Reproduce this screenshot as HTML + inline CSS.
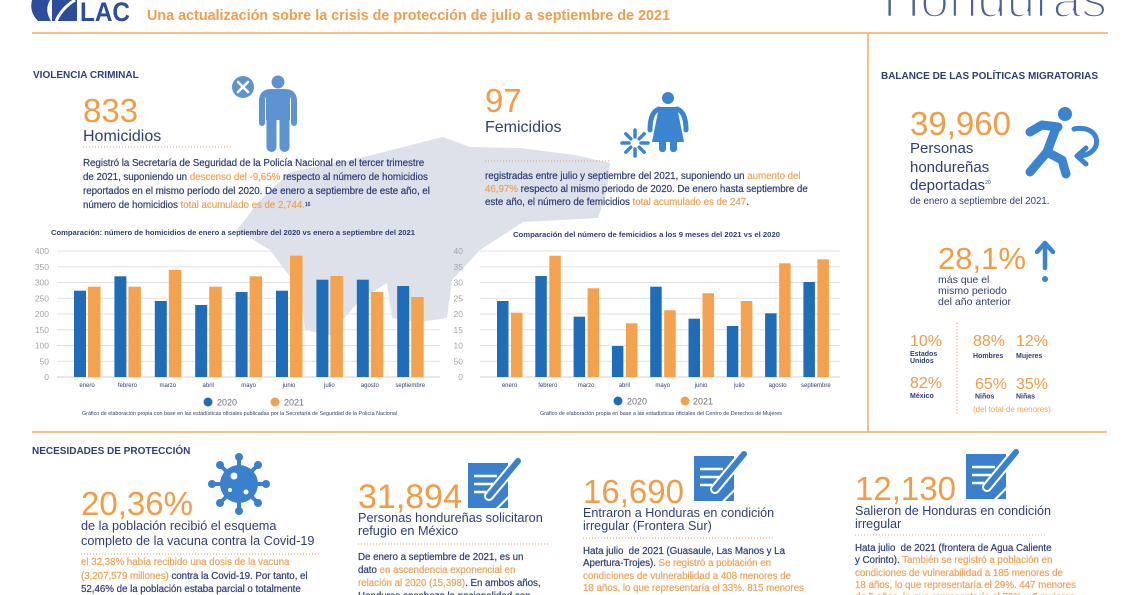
<!DOCTYPE html>
<html><head><meta charset="utf-8">
<style>
html,body{margin:0;padding:0;background:#fff;}
#c{position:relative;width:1140px;height:595px;overflow:hidden;background:#fff;font-family:"Liberation Sans","DejaVu Sans",sans-serif;}
svg{position:absolute;left:0;top:0;}
.p{position:absolute;white-space:nowrap;font-size:9.8px;color:#2f3d78;letter-spacing:-0.05px;-webkit-text-stroke:0.2px currentColor;}
.o{color:#f3a157;}
sup{font-size:5px;vertical-align:top;position:relative;top:-1px;}
</style></head><body>
<div id="c">
<svg width="1140" height="595" viewBox="0 0 1140 595" font-family="Liberation Sans, DejaVu Sans, sans-serif">
<!-- map -->
<path d="M237,230 L260,200 L290,172 L360,158 L443,137 L470,147 L520,148 L575,155 L610,163 L607,190 L598,218 L523,222 L480,250 L452,280 L447,318 L420,322 L392,318 L387,283 L360,300 L330,335 L305,330 L300,290 L270,250 Z" fill="#dde1ea"/>

<!-- header -->
<path d="M32,0 L50,0 Q44,10 51,21 L38,21 Q29,12 32,0Z" fill="#2c4c9c"/>
<rect x="52" y="0" width="25" height="21" fill="#2c4c9c"/>
<path d="M56,21 Q62,8 75,0" stroke="#fff" stroke-width="3" fill="none"/>
<text x="80" y="21" font-size="27" font-weight="bold" fill="#2c4c9c" textLength="50" lengthAdjust="spacingAndGlyphs">LAC</text>
<text x="147" y="20" font-size="15" font-weight="bold" fill="#f29d4b" textLength="523" lengthAdjust="spacingAndGlyphs">Una actualización sobre la crisis de protección de julio a septiembre de 2021</text>
<text x="883" y="17" font-size="52" fill="#4b5f9c" stroke="#fff" stroke-width="2.4" textLength="224" lengthAdjust="spacingAndGlyphs">Honduras</text>

<!-- separators -->
<line x1="32" y1="33" x2="1108" y2="33" stroke="#f4a862" stroke-width="1.5"/>
<line x1="868" y1="33" x2="868" y2="432" stroke="#f4a862" stroke-width="1.5"/>
<line x1="32" y1="432" x2="1107" y2="432" stroke="#f4a862" stroke-width="1.5"/>

<!-- section titles -->
<text x="33" y="78" font-size="10" font-weight="bold" fill="#2f3d78">VIOLENCIA CRIMINAL</text>
<text x="881" y="79" font-size="10" font-weight="bold" fill="#2f3d78" textLength="217" lengthAdjust="spacingAndGlyphs">BALANCE DE LAS POLÍTICAS MIGRATORIAS</text>
<text x="32" y="454" font-size="10" font-weight="bold" fill="#2f3d78">NECESIDADES DE PROTECCIÓN</text>

<!-- homicidios -->
<text x="83" y="122" font-size="33" fill="#f39b45">833</text>
<text x="83" y="141" font-size="16" fill="#2f3d78">Homicidios</text>
<line x1="83" y1="147" x2="232" y2="147" stroke="#f3a157" stroke-width="1" stroke-dasharray="1 2"/>
<circle cx="243" cy="87" r="11" fill="#5e93d2"/>
<path d="M238,82 L248,92 M248,82 L238,92" stroke="#fff" stroke-width="2.5" stroke-linecap="round"/>
<circle cx="278" cy="82" r="6.5" fill="#5e93d2"/>
<path d="M262,123 L262,101 Q262,92 271,92 L285,92 Q294,92 294,101 L294,123" stroke="#5e93d2" stroke-width="6" fill="none" stroke-linecap="round"/>
<rect x="266" y="92" width="24" height="28" fill="#5e93d2"/>
<rect x="266.5" y="112" width="10" height="40" rx="5" fill="#5e93d2"/>
<rect x="279.5" y="112" width="10" height="40" rx="5" fill="#5e93d2"/>

<!-- femicidios -->
<text x="485" y="112" font-size="33" fill="#f39b45">97</text>
<text x="485" y="132" font-size="16" fill="#2f3d78">Femicidios</text>
<line x1="485" y1="161" x2="610" y2="161" stroke="#f3a157" stroke-width="1" stroke-dasharray="1 2"/>
<circle cx="668" cy="98" r="6" fill="#3b84cf"/>
<path d="M659,107 L677,107 L684,142 L652,142 Z" fill="#3b84cf"/>
<path d="M659,109 Q650,112 650,130 M677,109 Q686,112 686,130" stroke="#3b84cf" stroke-width="5" fill="none" stroke-linecap="round"/>
<rect x="659" y="138" width="7" height="14" rx="3" fill="#3b84cf"/>
<rect x="670" y="138" width="7" height="14" rx="3" fill="#3b84cf"/>
<g stroke="#3b84cf" stroke-width="3.5" stroke-linecap="round">
<line x1="641" y1="143" x2="648" y2="143"/><line x1="629" y1="143" x2="622" y2="143"/>
<line x1="635" y1="137" x2="635" y2="130"/><line x1="635" y1="149" x2="635" y2="156"/>
<line x1="639.2" y1="138.8" x2="644.2" y2="133.8"/><line x1="630.8" y1="147.2" x2="625.8" y2="152.2"/>
<line x1="630.8" y1="138.8" x2="625.8" y2="133.8"/><line x1="639.2" y1="147.2" x2="644.2" y2="152.2"/>
</g>

<!-- right column -->
<text x="910" y="135" font-size="33" fill="#f39b45">39,960</text>
<text x="910" y="153" font-size="15" fill="#2f3d78">Personas</text>
<text x="910" y="172" font-size="15" fill="#2f3d78">hondureñas</text>
<text x="910" y="190" font-size="15" fill="#2f3d78">deportadas<tspan font-size="5" dy="-6">20</tspan></text>
<text x="910" y="204" font-size="9.7" fill="#2f3d78">de enero a septiembre del 2021.</text>
<circle cx="1065" cy="114" r="7" fill="#3b84cf"/>
<g stroke="#3b84cf" stroke-width="9" stroke-linecap="round" stroke-linejoin="round" fill="none">
<path d="M1030,132 L1042,125 L1058,127"/>
<path d="M1056,128 L1047,152"/>
<path d="M1047,152 L1030,172"/>
<path d="M1047,152 L1062,160 L1066,174"/>
</g>
<path d="M1074,129 C1102,124 1104,154 1080,156" stroke="#3b84cf" stroke-width="5" fill="none" stroke-linecap="round"/>
<path d="M1086,148 L1077,156 L1086,164" stroke="#3b84cf" stroke-width="5" fill="none" stroke-linecap="round" stroke-linejoin="round"/>

<text x="938" y="269" font-size="31" fill="#f39b45">28,1%</text>
<text x="938" y="283" font-size="10.5" fill="#2f3d78">más que el</text>
<text x="938" y="294" font-size="10.5" fill="#2f3d78">mismo periodo</text>
<text x="938" y="305" font-size="10.5" fill="#2f3d78">del año anterior</text>
<path d="M1045,245 L1045,268 M1037,252 L1045,243 L1053,252" stroke="#3b84cf" stroke-width="4.5" fill="none" stroke-linecap="round" stroke-linejoin="round"/>
<circle cx="1045" cy="279" r="3" fill="#3b84cf"/>

<line x1="957" y1="323" x2="957" y2="414" stroke="#f3a157" stroke-width="1.2" stroke-dasharray="1 2.2"/>
<g font-size="16" fill="#f39b45">
<text x="910" y="346">10%</text><text x="973" y="346">88%</text><text x="1016" y="346">12%</text>
<text x="910" y="388">82%</text><text x="975" y="389">65%</text><text x="1016" y="389">35%</text>
</g>
<g font-size="7" font-weight="bold" fill="#2f3d78">
<text x="910" y="356">Estados</text><text x="910" y="363">Unidos</text>
<text x="973" y="358">Hombres</text><text x="1016" y="358">Mujeres</text>
<text x="910" y="398">México</text><text x="975" y="398.5">Niños</text><text x="1016" y="398.5">Niñas</text>
</g>
<text x="973" y="412" font-size="8" fill="#f3a157">(del total de menores)</text>

<!-- left chart -->
<text x="51" y="235" font-size="7.6" font-weight="bold" fill="#2f3d78" textLength="364" lengthAdjust="spacingAndGlyphs">Comparación: número de homicidios de enero a septiembre del 2020 vs enero a septiembre del 2021</text>
<g stroke="#e2e2e6" stroke-width="1">
<line x1="57" y1="251" x2="440" y2="251"/><line x1="57" y1="266.75" x2="440" y2="266.75"/><line x1="57" y1="282.5" x2="440" y2="282.5"/><line x1="57" y1="298.25" x2="440" y2="298.25"/><line x1="57" y1="314" x2="440" y2="314"/><line x1="57" y1="329.75" x2="440" y2="329.75"/><line x1="57" y1="345.5" x2="440" y2="345.5"/><line x1="57" y1="361.25" x2="440" y2="361.25"/>
</g>
<line x1="57" y1="377" x2="440" y2="377" stroke="#cfcfd4" stroke-width="1"/>
<g font-size="8.5" fill="#a3a3ab" text-anchor="end">
<text x="49" y="254">400</text><text x="49" y="269.8">350</text><text x="49" y="285.5">300</text><text x="49" y="301.3">250</text><text x="49" y="317">200</text><text x="49" y="332.8">150</text><text x="49" y="348.5">100</text><text x="49" y="364.3">50</text><text x="49" y="380">0</text>
</g>
<g fill="#1f6db8">
<rect x="74" y="290.7" width="12" height="86.3"/>
<rect x="114.4" y="276.3" width="12" height="100.7"/>
<rect x="154.8" y="301" width="12" height="76"/>
<rect x="195.2" y="305" width="12" height="72"/>
<rect x="235.6" y="292" width="12" height="85"/>
<rect x="276" y="290.7" width="12" height="86.3"/>
<rect x="316.4" y="279.7" width="12" height="97.3"/>
<rect x="356.8" y="279.7" width="12" height="97.3"/>
<rect x="397.2" y="286" width="12" height="91"/>
</g>
<g fill="#f5a24f">
<rect x="88" y="286.7" width="12.5" height="90.3"/>
<rect x="128.4" y="286.7" width="12.5" height="90.3"/>
<rect x="168.8" y="270" width="12.5" height="107"/>
<rect x="209.2" y="286.7" width="12.5" height="90.3"/>
<rect x="249.6" y="276.3" width="12.5" height="100.7"/>
<rect x="290" y="255.7" width="12.5" height="121.3"/>
<rect x="330.4" y="276" width="12.5" height="101"/>
<rect x="370.8" y="292" width="12.5" height="85"/>
<rect x="411.2" y="297" width="12.5" height="80"/>
</g>
<g font-size="6" fill="#2f3d78" text-anchor="middle">
<text x="87" y="387">enero</text><text x="127.4" y="387">febrero</text><text x="167.8" y="387">marzo</text><text x="208.2" y="387">abril</text><text x="248.6" y="387">mayo</text><text x="289" y="387">junio</text><text x="329.4" y="387">julio</text><text x="369.8" y="387">agosto</text><text x="410.2" y="387">septiembre</text>
</g>
<circle cx="208" cy="402" r="4.5" fill="#1f6db8"/>
<text x="217" y="405.5" font-size="9" fill="#6e6e78">2020</text>
<circle cx="275" cy="402" r="4.5" fill="#f5a24f"/>
<text x="284" y="405.5" font-size="9" fill="#6e6e78">2021</text>
<text x="82" y="415" font-size="5.3" fill="#2f3d78" textLength="315" lengthAdjust="spacingAndGlyphs">Gráfico de elaboración propia con base en las estadísticas oficiales publicadas por la Secretaría de Seguridad de la Policía Nacional</text>

<!-- right chart -->
<text x="513" y="237" font-size="7.6" font-weight="bold" fill="#2f3d78" textLength="267" lengthAdjust="spacingAndGlyphs">Comparación del número de femicidios a los 9 meses del 2021 vs el 2020</text>
<g stroke="#e2e2e6" stroke-width="1">
<line x1="480" y1="251" x2="840" y2="251"/><line x1="480" y1="266.75" x2="840" y2="266.75"/><line x1="480" y1="282.5" x2="840" y2="282.5"/><line x1="480" y1="298.25" x2="840" y2="298.25"/><line x1="480" y1="314" x2="840" y2="314"/><line x1="480" y1="329.75" x2="840" y2="329.75"/><line x1="480" y1="345.5" x2="840" y2="345.5"/><line x1="480" y1="361.25" x2="840" y2="361.25"/>
</g>
<line x1="480" y1="377" x2="840" y2="377" stroke="#cfcfd4" stroke-width="1"/>
<g font-size="8.5" fill="#a3a3ab" text-anchor="end">
<text x="463" y="254">40</text><text x="463" y="269.8">35</text><text x="463" y="285.5">30</text><text x="463" y="301.3">25</text><text x="463" y="317">20</text><text x="463" y="332.8">15</text><text x="463" y="348.5">10</text><text x="463" y="364.3">50</text><text x="463" y="380">0</text>
</g>
<g fill="#1f6db8">
<rect x="497" y="301" width="11.5" height="76"/>
<rect x="535.3" y="276" width="11.5" height="101"/>
<rect x="573.6" y="316.7" width="11.5" height="60.3"/>
<rect x="611.9" y="346" width="11.5" height="31"/>
<rect x="650.2" y="286.7" width="11.5" height="90.3"/>
<rect x="688.5" y="318.7" width="11.5" height="58.3"/>
<rect x="726.8" y="326" width="11.5" height="51"/>
<rect x="765.1" y="313.3" width="11.5" height="63.7"/>
<rect x="803.4" y="282" width="11.5" height="95"/>
</g>
<g fill="#f5a24f">
<rect x="511" y="312.7" width="11.5" height="64.3"/>
<rect x="549.3" y="255.7" width="11.5" height="121.3"/>
<rect x="587.6" y="288.3" width="11.5" height="88.7"/>
<rect x="625.9" y="323.3" width="11.5" height="53.7"/>
<rect x="664.2" y="310.3" width="11.5" height="66.7"/>
<rect x="702.5" y="293.3" width="11.5" height="83.7"/>
<rect x="740.8" y="301" width="11.5" height="76"/>
<rect x="779.1" y="263.3" width="11.5" height="113.7"/>
<rect x="817.4" y="259.3" width="11.5" height="117.7"/>
</g>
<g font-size="6" fill="#2f3d78" text-anchor="middle">
<text x="509.5" y="387">enero</text><text x="547.8" y="387">febrero</text><text x="586.1" y="387">marzo</text><text x="624.4" y="387">abril</text><text x="662.7" y="387">mayo</text><text x="701" y="387">junio</text><text x="739.3" y="387">julio</text><text x="777.6" y="387">agosto</text><text x="815.9" y="387">septiembre</text>
</g>
<circle cx="618" cy="401" r="4.5" fill="#1f6db8"/>
<text x="627" y="404.5" font-size="9" fill="#6e6e78">2020</text>
<circle cx="685" cy="401" r="4.5" fill="#f5a24f"/>
<text x="693" y="404.5" font-size="9" fill="#6e6e78">2021</text>
<text x="540" y="415" font-size="5.3" fill="#2f3d78" textLength="242" lengthAdjust="spacingAndGlyphs">Gráfico de elaboración propia en base a las estadísticas oficiales del Centro de Derechos de Mujeres</text>

<!-- bottom block 1 -->
<g transform="translate(239,484)">
<g stroke="#3b80cc" stroke-width="4" stroke-linecap="round">
<line x1="0" y1="-18" x2="0" y2="-26"/><line x1="0" y1="18" x2="0" y2="26"/>
<line x1="-18" y1="0" x2="-26" y2="0"/><line x1="18" y1="0" x2="26" y2="0"/>
<line x1="13" y1="-13" x2="18.5" y2="-18.5"/><line x1="-13" y1="13" x2="-18.5" y2="18.5"/>
<line x1="-13" y1="-13" x2="-18.5" y2="-18.5"/><line x1="13" y1="13" x2="18.5" y2="18.5"/>
</g>
<g fill="#3b80cc">
<circle cx="0" cy="-27" r="4"/><circle cx="0" cy="27" r="4"/><circle cx="-27" cy="0" r="4"/><circle cx="27" cy="0" r="4"/>
<circle cx="19" cy="-19" r="4"/><circle cx="-19" cy="19" r="4"/><circle cx="-19" cy="-19" r="4"/><circle cx="19" cy="19" r="4"/>
<circle cx="0" cy="0" r="19"/>
</g>
<circle cx="-5" cy="-8" r="3.5" fill="#fff"/><circle cx="-9" cy="6" r="2" fill="#fff"/><circle cx="7" cy="8" r="2.5" fill="#fff"/>
</g>
<text x="81" y="515" font-size="33" fill="#f39b45">20,36%</text>
<text x="81" y="530" font-size="12.7" fill="#2f3d78">de la población recibió el esquema</text>
<text x="81" y="545" font-size="12.7" fill="#2f3d78">completo de la vacuna contra la Covid-19</text>
<line x1="81" y1="554" x2="320" y2="554" stroke="#f3a157" stroke-width="1" stroke-dasharray="1 2"/>

<!-- doc icon block 2 -->
<g>
<path d="M468,463 L508,463 L508,496 L496,508 L468,508 Z" fill="#3b80cc"/>
<path d="M499,508 L508,499 L508,508 Z" fill="#3b80cc"/>
<path d="M474,476 L497,476 M474,484 L493,484 M474,492 L486,492" stroke="#fff" stroke-width="2.5"/>
<path d="M489,496 L518,461" stroke="#fff" stroke-width="10" stroke-linecap="round"/>
<path d="M489,496 L518,461" stroke="#3b80cc" stroke-width="6" stroke-linecap="round"/>
</g>
<text x="358" y="508" font-size="34" fill="#f39b45">31,894</text>
<text x="358" y="522" font-size="12.7" fill="#2f3d78">Personas hondureñas solicitaron</text>
<text x="358" y="535" font-size="12.7" fill="#2f3d78">refugio en México</text>
<line x1="358" y1="544" x2="549" y2="544" stroke="#f3a157" stroke-width="1" stroke-dasharray="1 2"/>

<!-- block 3 -->
<g transform="translate(226,-7)">
<path d="M468,463 L508,463 L508,496 L496,508 L468,508 Z" fill="#3b80cc"/>
<path d="M499,508 L508,499 L508,508 Z" fill="#3b80cc"/>
<path d="M474,476 L497,476 M474,484 L493,484 M474,492 L486,492" stroke="#fff" stroke-width="2.5"/>
<path d="M489,496 L518,461" stroke="#fff" stroke-width="10" stroke-linecap="round"/>
<path d="M489,496 L518,461" stroke="#3b80cc" stroke-width="6" stroke-linecap="round"/>
</g>
<text x="583" y="503" font-size="33" fill="#f39b45">16,690</text>
<text x="583" y="517" font-size="12.6" fill="#2f3d78">Entraron a Honduras en condición</text>
<text x="583" y="530" font-size="12.6" fill="#2f3d78">irregular (Frontera Sur)</text>
<line x1="583" y1="538" x2="775" y2="538" stroke="#f3a157" stroke-width="1" stroke-dasharray="1 2"/>

<!-- block 4 -->
<g transform="translate(498,-9)">
<path d="M468,463 L508,463 L508,496 L496,508 L468,508 Z" fill="#3b80cc"/>
<path d="M499,508 L508,499 L508,508 Z" fill="#3b80cc"/>
<path d="M474,476 L497,476 M474,484 L493,484 M474,492 L486,492" stroke="#fff" stroke-width="2.5"/>
<path d="M489,496 L518,461" stroke="#fff" stroke-width="10" stroke-linecap="round"/>
<path d="M489,496 L518,461" stroke="#3b80cc" stroke-width="6" stroke-linecap="round"/>
</g>
<text x="855" y="500" font-size="33" fill="#f39b45">12,130</text>
<text x="855" y="515" font-size="12.6" fill="#2f3d78">Salieron de Honduras en condición</text>
<text x="855" y="528" font-size="12.6" fill="#2f3d78">irregular</text>
<line x1="855" y1="535" x2="1047" y2="535" stroke="#f3a157" stroke-width="1" stroke-dasharray="1 2"/>
</svg>

<div class="p" style="left:83px;top:157px;line-height:14px;">Registró la Secretaría de Seguridad de la Policía Nacional en el tercer trimestre<br>de 2021, suponiendo un <span class="o">descenso del -9,65%</span> respecto al número de homicidios<br>reportados en el mismo período del 2020. De enero a septiembre de este año, el<br>número de homicidios <span class="o">total acumulado es de 2,744.</span><sup>16</sup></div>

<div class="p" style="left:485px;top:169.5px;line-height:13px;">registradas entre julio y septiembre del 2021, suponiendo un <span class="o">aumento del</span><br><span class="o">46,97%</span> respecto al mismo periodo de 2020. De enero hasta septiembre de<br>este año, el número de femicidios <span class="o">total acumulado es de 247</span>.</div>

<div class="p" style="left:81px;top:556px;line-height:13.5px;"><span class="o">el 32,38% había recibido una dosis de la vacuna</span><br><span class="o">(3,207,579 millones)</span> contra la Covid-19. Por tanto, el<br>52,46% de la población estaba parcial o totalmente</div>

<div class="p" style="left:358px;top:550.5px;line-height:13px;">De enero a septiembre de 2021, es un<br>dato <span class="o">en ascendencia exponencial en</span><br><span class="o">relación al 2020 (15,398)</span>. En ambos años,<br>Honduras encabeza la nacionalidad con</div>

<div class="p" style="left:583px;top:546px;line-height:12.3px;">Hata julio&nbsp; de 2021 (Guasaule, Las Manos y La<br>Apertura-Trojes). <span class="o">Se registró a población en</span><br><span class="o">condiciones de vulnerabilidad a 408 menores de</span><br><span class="o">18 años, lo que representaría el 33%. 815 menores</span><br><span class="o">de 5 años, lo que representaría el 66% y 2 mujeres</span></div>

<div class="p" style="left:855px;top:543px;line-height:12.3px;">Hata julio&nbsp; de 2021 (frontera de Agua Caliente<br>y Corinto). <span class="o">También se registró a población en</span><br><span class="o">condiciones de vulnerabilidad a 185 menores de</span><br><span class="o">18 años, lo que representaría el 29%. 447 menores</span><br><span class="o">de 5 años, lo que representaría el 79% y 2 mujeres</span></div>
</div>
</body></html>
